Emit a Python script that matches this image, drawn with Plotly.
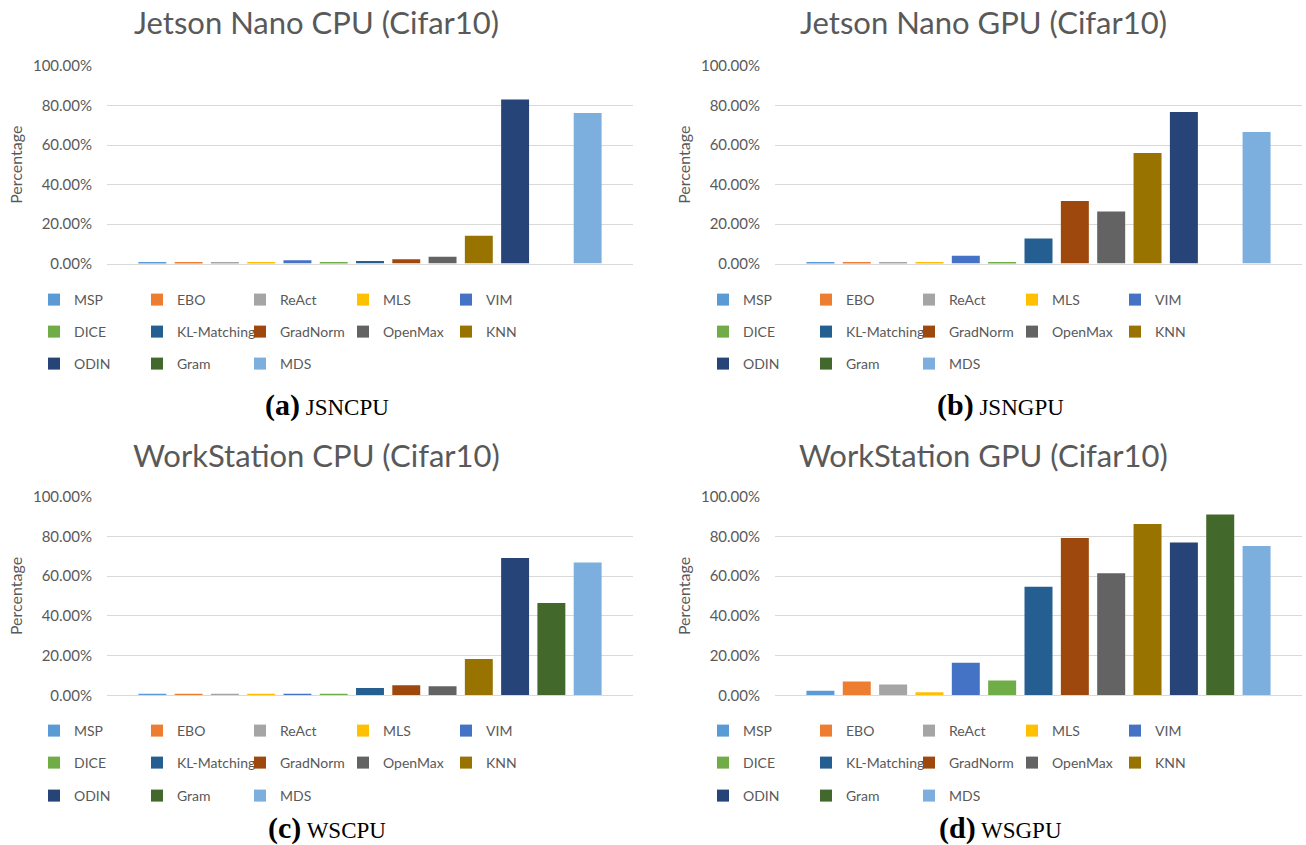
import plotly.graph_objects as go

methods = ["MSP", "EBO", "ReAct", "MLS", "VIM", "DICE", "KL-Matching",
           "GradNorm", "OpenMax", "KNN", "ODIN", "Gram", "MDS"]
colors = ["#5B9BD5", "#ED7D31", "#A5A5A5", "#FFC000", "#4472C4", "#70AD47",
          "#255E91", "#9E480E", "#636363", "#997300", "#264478", "#43682B", "#7CAFDD"]

# percentages
jsn_cpu = [0.5, 0.5, 0.5, 0.5, 1.7, 0.5, 1.3, 2.2, 3.4, 14.0, 83.0, None, 76.2]
jsn_gpu = [0.3, 0.8, 0.3, 0.3, 3.9, 0.8, 12.6, 31.7, 26.3, 56.0, 76.7, None, 66.6]
ws_cpu = [0.4, 0.4, 0.4, 0.4, 0.4, 0.4, 3.7, 5.0, 4.5, 18.3, 69.1, 46.5, 66.9]
ws_gpu = [2.3, 6.9, 5.5, 1.5, 16.4, 7.4, 54.7, 79.2, 61.4, 86.2, 77.0, 91.1, 75.2]

titles = ["Jetson Nano CPU (Cifar10)", "Jetson Nano GPU (Cifar10)",
          "WorkStation CPU (Cifar10)", "WorkStation GPU (Cifar10)"]
captions = [("(a)", "JSNCPU"), ("(b)", "JSNGPU"), ("(c)", "WSCPU"), ("(d)", "WSGPU")]
panels = [jsn_cpu, jsn_gpu, ws_cpu, ws_gpu]
y_ticks = [0, 0.2, 0.4, 0.6, 0.8, 1.0]

W, H = 1306, 845
def fx(px):
    return px / W
def fy(py):
    return 1 - py / H

GRAY = "#595959"
GRID = "#D9D9D9"
FONT = "Lato, 'Open Sans', sans-serif"

# panel geometry (pixels)
x_dom = [(107, 633), (775, 1302), (107, 633), (775, 1302)]
y_dom = [(66, 263.5), (66, 263.5), (496.7, 695.3), (496.7, 695.3)]
title_pos = [(316, 22), (983, 22), (316, 455), (983, 455)]
caption_pos = [(327, 405), (1000, 405), (327, 828), (1000, 828)]
legend_x = [34, 703, 34, 703]
legend_rows_y = [[300, 332, 364], [300, 332, 364], [731, 763, 796], [731, 763, 796]]

fig = go.Figure()
layout = dict(width=W, height=H, margin=dict(l=0, r=0, t=0, b=0, autoexpand=False),
              paper_bgcolor="white", plot_bgcolor="white", barmode="overlay",
              font=dict(family=FONT, color=GRAY), annotations=[])

for p, vals in enumerate(panels):
    ax = "" if p == 0 else str(p + 1)
    for i, (m, c, v) in enumerate(zip(methods, colors, vals)):
        r = 0 if i < 5 else (1 if i < 10 else 2)
        k = p * 3 + r + 1
        leg = "legend" if k == 1 else f"legend{k}"
        fig.add_trace(go.Bar(
            x=[i], y=[None if v is None else v / 100], name=m,
            marker=dict(color=c, line=dict(width=0)), width=0.77,
            xaxis="x" + ax, yaxis="y" + ax, legend=leg,
            hovertemplate=m + ": %{y:.2%}<extra></extra>"))
    for r in range(3):
        k = p * 3 + r + 1
        leg = "legend" if k == 1 else f"legend{k}"
        layout[leg] = dict(orientation="h", x=fx(legend_x[p]), y=fy(legend_rows_y[p][r]),
                           xanchor="left", yanchor="middle", entrywidth=58,
                           entrywidthmode="pixels", bgcolor="rgba(0,0,0,0)",
                           font=dict(family=FONT, size=14, color=GRAY),
                           itemclick=False, itemdoubleclick=False)
    layout["xaxis" + ax] = dict(domain=[fx(x_dom[p][0]), fx(x_dom[p][1])],
                                anchor="y" + ax, range=[-1.25, 13.25],
                                showticklabels=False, showgrid=False, zeroline=False,
                                showline=True, linecolor=GRID, linewidth=1, ticks="",
                                fixedrange=True)
    layout["yaxis" + ax] = dict(domain=[fy(y_dom[p][1]), fy(y_dom[p][0])],
                                anchor="x" + ax, range=[0, 1], tickvals=y_ticks,
                                tickformat=".2%", showgrid=True, gridcolor=GRID, gridwidth=1,
                                zeroline=False, showline=False, ticks="",
                                ticklabelstandoff=14,
                                tickfont=dict(family=FONT, size=15, color=GRAY),
                                title=dict(text="Percentage", standoff=6,
                                           font=dict(family=FONT, size=16, color=GRAY)),
                                fixedrange=True)
    layout["annotations"].append(dict(
        text=titles[p], x=fx(title_pos[p][0]), y=fy(title_pos[p][1]), xref="paper",
        yref="paper", showarrow=False, xanchor="center", yanchor="middle",
        font=dict(family=FONT, size=31, color=GRAY)))
    lab, name = captions[p]
    layout["annotations"].append(dict(
        text=f"<b><span style='font-size:30px'>{lab}</span></b> {name}",
        x=fx(caption_pos[p][0]), y=fy(caption_pos[p][1]), xref="paper", yref="paper",
        showarrow=False, xanchor="center", yanchor="middle",
        font=dict(family="'Liberation Serif', 'Times New Roman', serif", size=23, color="black")))

fig.update_layout(**layout)

# page style: no body margin so the 1306x845 figure fills the window exactly
page_css = ('data:text/javascript,"></script>'
            '<style>html,body{margin:0;padding:0;overflow:hidden;}</style>'
            '<script src="data:text/javascript,//.js')
fig.write_html("out.html", config={"displayModeBar": False},
               include_mathjax=page_css,
               post_script="document.body.style.margin='0';")
